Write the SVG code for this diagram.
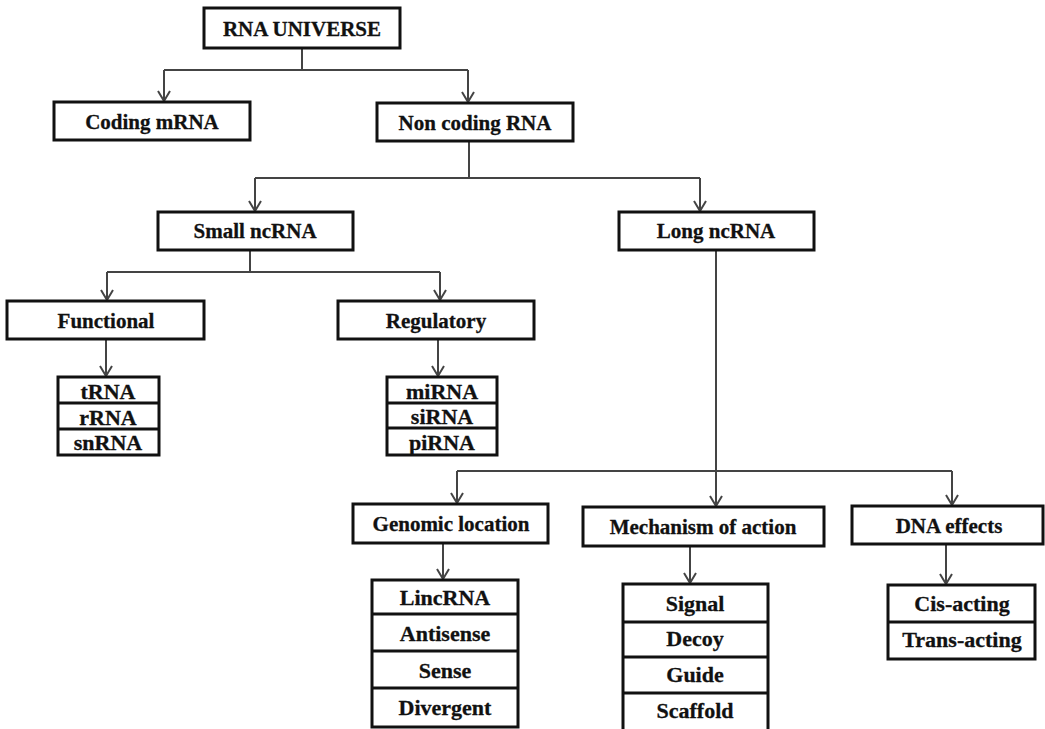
<svg xmlns="http://www.w3.org/2000/svg" width="1045" height="729" viewBox="0 0 1045 729">
<style>
.box{fill:#fff;stroke:#111;stroke-width:3}
.div{stroke:#111;stroke-width:3}
.t{font-family:"Liberation Serif","Times New Roman",serif;font-weight:bold;font-size:21px;fill:#111;stroke:#111;stroke-width:0.3;text-anchor:middle}
.l{font-size:22px}
.c{fill:none;stroke:#444;stroke-width:2}
</style>
<defs>
<marker id="ah" viewBox="-1 -7 12 14" markerWidth="12" markerHeight="14" refX="10" refY="0" orient="auto" markerUnits="userSpaceOnUse">
<path d="M0,-6 L10,0 L0,6" fill="none" stroke="#444" stroke-width="2"/>
</marker>
</defs>
<rect width="1045" height="729" fill="#fff"/>
<g id="connectors">
<path class="c" d="M302,48 V70 M164,70 H468"/>
<path class="c" d="M164,70 V101" marker-end="url(#ah)"/>
<path class="c" d="M468,70 V102" marker-end="url(#ah)"/>
<path class="c" d="M469,141 V178 M255,178 H700"/>
<path class="c" d="M255,178 V211" marker-end="url(#ah)"/>
<path class="c" d="M700,178 V211" marker-end="url(#ah)"/>
<path class="c" d="M250,250 V272 M107,272 H440"/>
<path class="c" d="M107,272 V300" marker-end="url(#ah)"/>
<path class="c" d="M440,272 V300" marker-end="url(#ah)"/>
<path class="c" d="M106,339 V376" marker-end="url(#ah)"/>
<path class="c" d="M438,339 V376" marker-end="url(#ah)"/>
<path class="c" d="M716,250 V506" marker-end="url(#ah)"/>
<path class="c" d="M457,471 H952"/>
<path class="c" d="M457,471 V503" marker-end="url(#ah)"/>
<path class="c" d="M952,471 V505" marker-end="url(#ah)"/>
<path class="c" d="M443,543 V579" marker-end="url(#ah)"/>
<path class="c" d="M690,546 V583" marker-end="url(#ah)"/>
<path class="c" d="M946,544 V584" marker-end="url(#ah)"/>
</g>
<g id="rna-universe">
<rect class="box" x="204" y="8" width="196" height="40"/>
<text class="t" x="302" y="36">RNA UNIVERSE</text>
</g>
<g id="coding-mrna">
<rect class="box" x="54" y="102" width="196" height="38"/>
<text class="t" x="152" y="129">Coding mRNA</text>
</g>
<g id="non-coding-rna">
<rect class="box" x="377" y="103" width="196" height="38"/>
<text class="t" x="475" y="130">Non coding RNA</text>
</g>
<g id="small-ncrna">
<rect class="box" x="158" y="212" width="195" height="38"/>
<text class="t" x="255" y="238">Small ncRNA</text>
</g>
<g id="long-ncrna">
<rect class="box" x="619" y="212" width="195" height="38"/>
<text class="t" x="716" y="238">Long ncRNA</text>
</g>
<g id="functional">
<rect class="box" x="7" y="301" width="197" height="38"/>
<text class="t" x="106" y="328">Functional</text>
</g>
<g id="regulatory">
<rect class="box" x="338" y="301" width="196" height="38"/>
<text class="t" x="436" y="328">Regulatory</text>
</g>
<g id="functional-list">
<rect class="box" x="58" y="377" width="101" height="78"/>
<path class="div" d="M58,403 H159 M58,429 H159"/>
<text class="t l" x="108" y="399">tRNA</text>
<text class="t l" x="108" y="425">rRNA</text>
<text class="t l" x="108" y="450">snRNA</text>
</g>
<g id="regulatory-list">
<rect class="box" x="387" y="377" width="110" height="78"/>
<path class="div" d="M387,403 H497 M387,428 H497"/>
<text class="t l" x="442" y="399">miRNA</text>
<text class="t l" x="442" y="424">siRNA</text>
<text class="t l" x="442" y="450">piRNA</text>
</g>
<g id="genomic-location">
<rect class="box" x="353" y="504" width="195" height="39"/>
<text class="t" x="451" y="531">Genomic location</text>
</g>
<g id="mechanism-of-action">
<rect class="box" x="583" y="507" width="241" height="39"/>
<text class="t" x="703" y="534">Mechanism of action</text>
</g>
<g id="dna-effects">
<rect class="box" x="852" y="506" width="191" height="38"/>
<text class="t" x="949" y="533">DNA effects</text>
</g>
<g id="genomic-list">
<rect class="box" x="372" y="580" width="146" height="147"/>
<path class="div" d="M372,614 H518 M372,651 H518 M372,688 H518"/>
<text class="t l" x="445" y="605">LincRNA</text>
<text class="t l" x="445" y="641">Antisense</text>
<text class="t l" x="445" y="678">Sense</text>
<text class="t l" x="445" y="715">Divergent</text>
</g>
<g id="mechanism-list">
<rect class="box" x="623" y="584" width="145" height="150"/>
<path class="div" d="M623,622 H768 M623,657 H768 M623,693 H768"/>
<text class="t l" x="695" y="611">Signal</text>
<text class="t l" x="695" y="646">Decoy</text>
<text class="t l" x="695" y="682">Guide</text>
<text class="t l" x="695" y="718">Scaffold</text>
</g>
<g id="dna-list">
<rect class="box" x="888" y="585" width="147" height="74"/>
<path class="div" d="M888,622 H1035"/>
<text class="t l" x="962" y="611">Cis-acting</text>
<text class="t l" x="962" y="647">Trans-acting</text>
</g>
</svg>
